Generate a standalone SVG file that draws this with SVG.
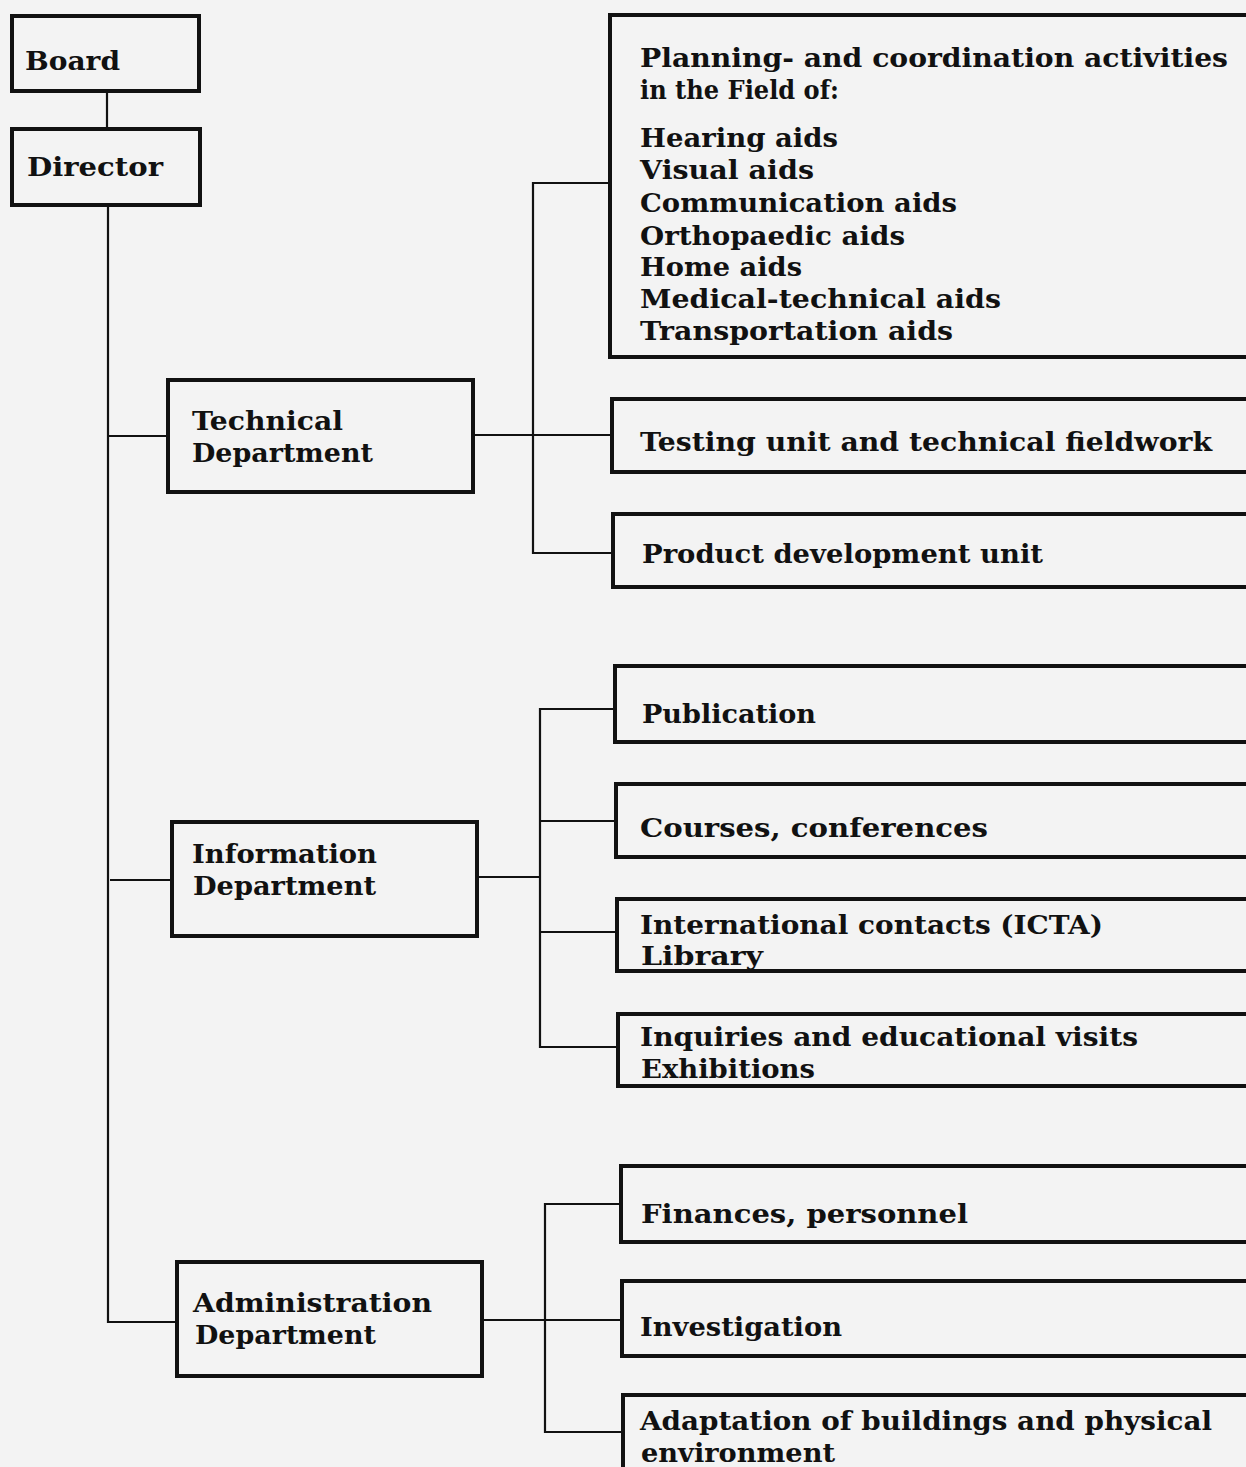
<svg xmlns="http://www.w3.org/2000/svg" width="1246" height="1467" viewBox="0 0 1246 1467">
<style>
.bg{fill:#f3f3f3}
.box{fill:none;stroke:#111;stroke-width:4}
.ln{fill:none;stroke:#111;stroke-width:2.2}
text{font-family:"DejaVu Serif","Liberation Serif",serif;font-weight:bold;font-size:26px;fill:#111}
</style>
<rect class="bg" x="0" y="0" width="1246" height="1467"/>
<g id="connectors">
<line class="ln" x1="107" y1="91" x2="107" y2="128"/>
<polyline class="ln" points="108,205 108,1322 178,1322"/>
<line class="ln" x1="108" y1="436" x2="168" y2="436"/>
<line class="ln" x1="110" y1="880" x2="172" y2="880"/>
<line class="ln" x1="473" y1="435" x2="612" y2="435"/>
<polyline class="ln" points="610,183 533,183 533,553 613,553"/>
<line class="ln" x1="477" y1="877" x2="540" y2="877"/>
<polyline class="ln" points="617,709 540,709 540,1047 620,1047"/>
<line class="ln" x1="540" y1="821" x2="617" y2="821"/>
<line class="ln" x1="540" y1="932" x2="618" y2="932"/>
<line class="ln" x1="482" y1="1320" x2="622" y2="1320"/>
<polyline class="ln" points="622,1204 545,1204 545,1432 624,1432"/>
</g>
<g id="board"><rect class="box" x="12" y="16" width="187" height="75"/><text x="25" y="70" textLength="95" lengthAdjust="spacingAndGlyphs">Board</text></g>
<g id="director"><rect class="box" x="12" y="129" width="188" height="76"/><text x="27" y="176" textLength="136" lengthAdjust="spacingAndGlyphs">Director</text></g>
<g id="technical"><rect class="box" x="168" y="380" width="305" height="112"/><text x="192" y="430" textLength="151" lengthAdjust="spacingAndGlyphs">Technical</text><text x="192" y="462" textLength="181" lengthAdjust="spacingAndGlyphs">Department</text></g>
<g id="information"><rect class="box" x="172" y="822" width="305" height="114"/><text x="192" y="863" textLength="185" lengthAdjust="spacingAndGlyphs">Information</text><text x="193" y="895" textLength="183" lengthAdjust="spacingAndGlyphs">Department</text></g>
<g id="administration"><rect class="box" x="177" y="1262" width="305" height="114"/><text x="193" y="1312" textLength="239" lengthAdjust="spacingAndGlyphs">Administration</text><text x="195" y="1344" textLength="181" lengthAdjust="spacingAndGlyphs">Department</text></g>
<g id="planning"><rect class="box" x="610" y="15" width="650" height="342"/>
<text x="640" y="67" textLength="588" lengthAdjust="spacingAndGlyphs">Planning- and coordination activities</text>
<text x="640" y="99" textLength="199" lengthAdjust="spacingAndGlyphs">in the Field of:</text>
<text x="640" y="147" textLength="198" lengthAdjust="spacingAndGlyphs">Hearing aids</text>
<text x="640" y="179" textLength="174" lengthAdjust="spacingAndGlyphs">Visual aids</text>
<text x="640" y="212" textLength="317" lengthAdjust="spacingAndGlyphs">Communication aids</text>
<text x="640" y="245" textLength="265" lengthAdjust="spacingAndGlyphs">Orthopaedic aids</text>
<text x="640" y="276" textLength="162" lengthAdjust="spacingAndGlyphs">Home aids</text>
<text x="640" y="308" textLength="361" lengthAdjust="spacingAndGlyphs">Medical-technical aids</text>
<text x="640" y="340" textLength="313" lengthAdjust="spacingAndGlyphs">Transportation aids</text></g>
<g id="testing"><rect class="box" x="612" y="399" width="650" height="73"/><text x="640" y="451" textLength="572" lengthAdjust="spacingAndGlyphs">Testing unit and technical fieldwork</text></g>
<g id="product"><rect class="box" x="613" y="514" width="650" height="73"/><text x="642" y="563" textLength="401" lengthAdjust="spacingAndGlyphs">Product development unit</text></g>
<g id="publication"><rect class="box" x="615" y="666" width="650" height="76"/><text x="642" y="723" textLength="174" lengthAdjust="spacingAndGlyphs">Publication</text></g>
<g id="courses"><rect class="box" x="616" y="784" width="650" height="73"/><text x="640" y="837" textLength="348" lengthAdjust="spacingAndGlyphs">Courses, conferences</text></g>
<g id="international"><rect class="box" x="617" y="899" width="650" height="72"/><text x="640" y="934" textLength="463" lengthAdjust="spacingAndGlyphs">International contacts (ICTA)</text><text x="641" y="965" textLength="122" lengthAdjust="spacingAndGlyphs">Library</text></g>
<g id="inquiries"><rect class="box" x="618" y="1014" width="650" height="72"/><text x="640" y="1046" textLength="498" lengthAdjust="spacingAndGlyphs">Inquiries and educational visits</text><text x="641" y="1078" textLength="174" lengthAdjust="spacingAndGlyphs">Exhibitions</text></g>
<g id="finances"><rect class="box" x="621" y="1166" width="650" height="76"/><text x="641" y="1223" textLength="327" lengthAdjust="spacingAndGlyphs">Finances, personnel</text></g>
<g id="investigation"><rect class="box" x="622" y="1281" width="650" height="75"/><text x="640" y="1336" textLength="202" lengthAdjust="spacingAndGlyphs">Investigation</text></g>
<g id="adaptation"><rect class="box" x="623" y="1395" width="650" height="90"/><text x="640" y="1430" textLength="572" lengthAdjust="spacingAndGlyphs">Adaptation of buildings and physical</text><text x="641" y="1462" textLength="194" lengthAdjust="spacingAndGlyphs">environment</text></g>
</svg>
